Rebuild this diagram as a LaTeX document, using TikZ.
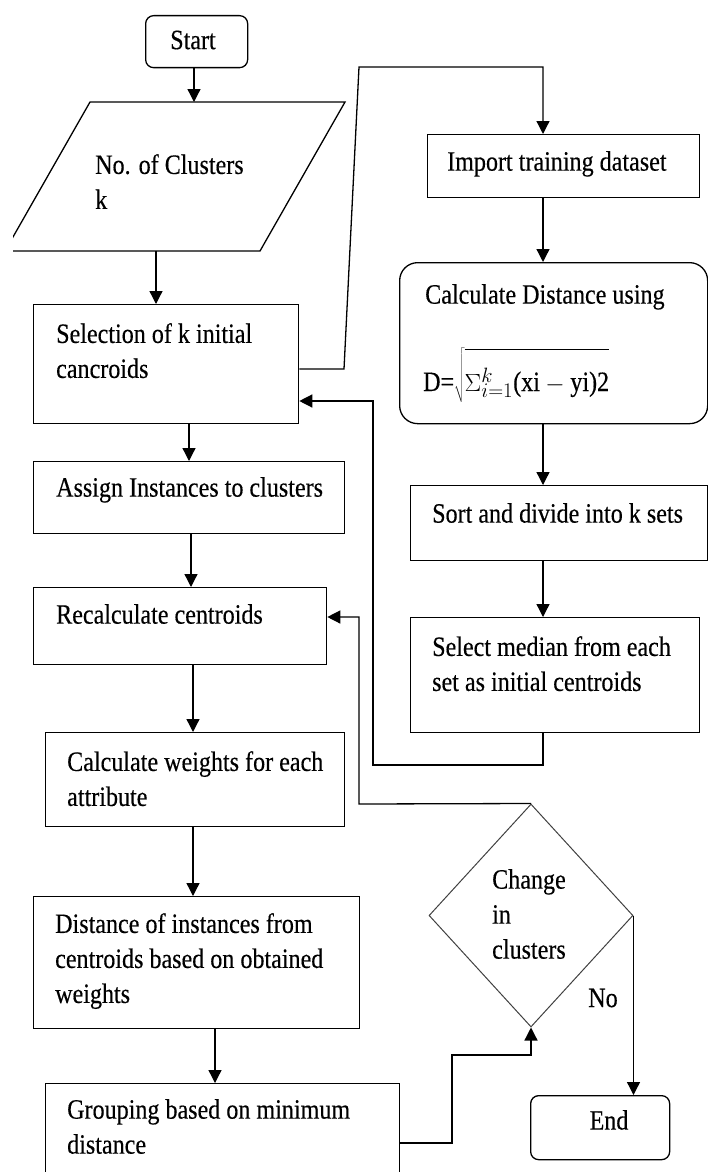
\documentclass[tikz,border=0pt]{standalone}
\usepackage{graphicx}
\usepackage{fontspec}
\setmainfont[FakeStretch=0.86,FakeBold=0.35]{Liberation Serif}
\usetikzlibrary{arrows.meta,shapes.geometric,calc}
\tikzset{
  box/.style={draw, line width=1.3pt, rectangle, inner sep=0pt, anchor=north west},
  rbox/.style={box, rounded corners=8pt},
  txt/.style={align=left, anchor=north west, inner sep=0pt, font=\fontsize{28}{35}\selectfont},
  ctxt/.style={inner sep=0pt, font=\fontsize{28}{35}\selectfont},
  ln/.style={line width=1.3pt},
  arr/.style={line width=1.3pt, -{Triangle[length=13pt,width=13pt]}},
}
\begin{document}
\begin{tikzpicture}[x=1pt,y=-1pt]
\useasboundingbox (0,0) rectangle (708,1172);
\clip (13,0) rectangle (708,1172);
% boxes
\node[rbox, minimum width=102, minimum height=52] (start) at (145,15) {};
\node[box, minimum width=265, minimum height=119] (sel) at (33,304) {};
\node[box, minimum width=272, minimum height=63] (import) at (427,134) {};
\node[box, rounded corners=18pt, minimum width=308, minimum height=161] (calc) at (399,262) {};
\node[box, minimum width=311, minimum height=72] (assign) at (33,461) {};
\node[box, minimum width=297, minimum height=75] (sort) at (410,485) {};
\node[box, minimum width=293, minimum height=77] (recalc) at (33,587) {};
\node[box, minimum width=289, minimum height=115] (select) at (410,617) {};
\node[box, minimum width=299, minimum height=94] (weights) at (45,732) {};
\node[box, minimum width=326, minimum height=132] (dist) at (33,896) {};
\node[box, minimum width=354, minimum height=110] (group) at (45,1083) {};
\node[rbox, minimum width=139, minimum height=64] (end) at (530,1095) {};
\node[diamond, draw=black!75, line width=1pt, inner sep=0pt, minimum width=204, minimum height=223] (dia) at (531,915.5) {};
% parallelogram
\draw[line width=1.3pt] (90,102) -- (345,102) -- (260,251) -- (5,251) -- cycle;
\coordinate (paratop) at (194,102);
\coordinate (parabot) at (156,251);
% texts
\node[ctxt] (tstart) at (193,40) {Start};
\node[txt] (tpara) at (95,154) {No. of Clusters\\k};
\node[txt] (tsel) at (56,323) {Selection of k initial\\cancroids};
\node[txt] (timport) at (447,151) {Import training dataset};
\node[txt] (tcalc) at (425,284) {Calculate Distance using};
\node[ctxt, anchor=base west] (tform) at (423,391) {D=$\sqrt{\rule[-11pt]{0pt}{52pt}\Sigma_{i=1}^{k}\mbox{(xi}-\mbox{yi)2}}$};
\node[txt] (tassign) at (56,477) {Assign Instances to clusters};
\node[txt] (tsort) at (432,503) {Sort and divide into k sets};
\node[txt] (trecalc) at (56,604) {Recalculate centroids};
\node[txt] (tselect) at (432,636) {Select median from each\\set as initial centroids};
\node[txt] (tweights) at (67,751) {Calculate weights for each\\attribute};
\node[txt] (tdist) at (55,913) {Distance of instances from\\centroids based on obtained\\weights};
\node[txt] (tdia) at (492,869) {Change\\in\\clusters};
\node[ctxt] (tno) at (603,998) {No};
\node[txt] (tgroup) at (67,1099) {Grouping based on minimum\\distance};
\node[ctxt] (tend) at (609,1120) {End};
% connectors
\coordinate (colR) at (543,0);
\coordinate (c1) at (189,0);
\coordinate (c2) at (191,0);
\coordinate (c3) at (193,0);
\coordinate (c4) at (215,0);
\draw[arr] (start.south -| paratop) -- (paratop);
\draw[arr] (parabot) -- (parabot |- sel.north);
\draw[arr] (sel.east |- 0,369) -- (344,369) -- (359,67) -- (colR |- 0,67) -- (colR |- import.north);
\draw[arr] (colR |- import.south) -- (colR |- calc.north);
\draw[arr] (colR |- calc.south) -- (colR |- sort.north);
\draw[arr] (colR |- sort.south) -- (colR |- select.north);
\draw[arr] (colR |- select.south) -- (543,765) -- (373,765) -- (373,401) -- (sel.east |- 0,401);
\draw[arr] (c1 |- sel.south) -- (c1 |- assign.north);
\draw[arr] (c2 |- assign.south) -- (c2 |- recalc.north);
\draw[arr] (c3 |- recalc.south) -- (c3 |- weights.north);
\draw[arr] (c3 |- weights.south) -- (c3 |- dist.north);
\draw[arr] (c4 |- dist.south) -- (c4 |- group.north);
\draw[arr] (dia.north) -- (359,804) -- (359,617) -- (recalc.east |- 0,617);
\draw[arr] (group.east |- 0,1143) -- (452,1143) -- (452,1055) -- (531,1055) -- (dia.south);
\draw[arr] (dia.east) -- (dia.east |- end.north);
\end{tikzpicture}
\end{document}
